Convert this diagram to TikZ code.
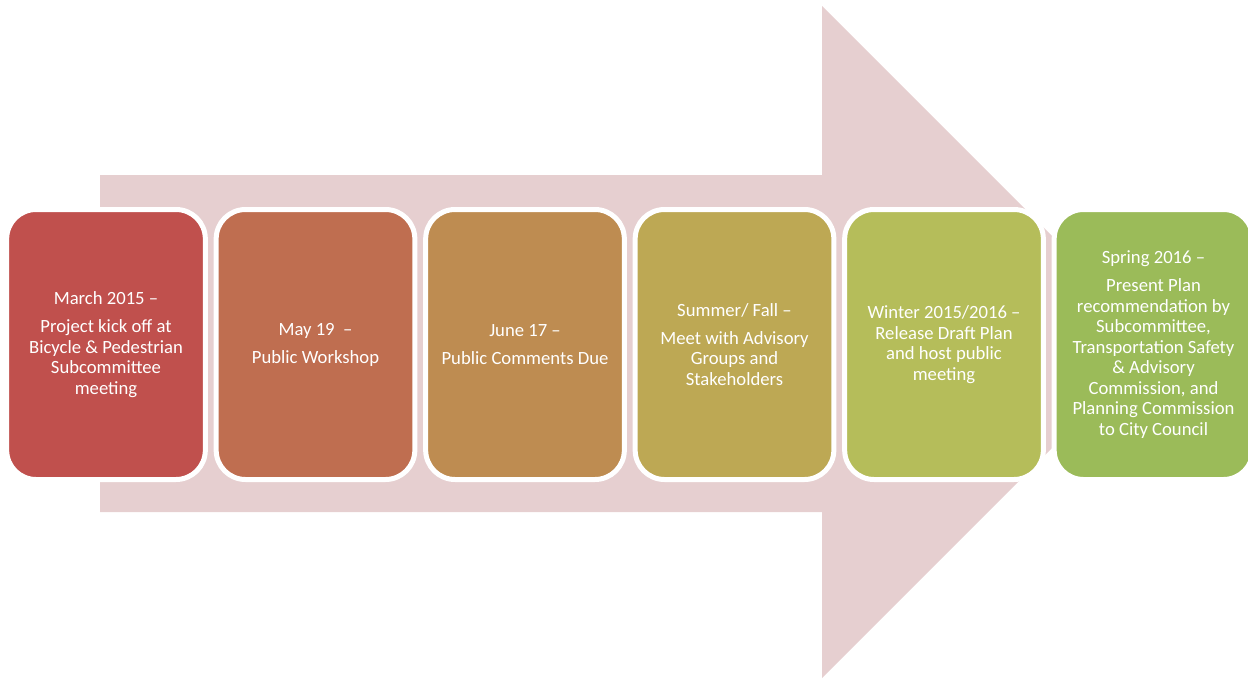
\documentclass[tikz,border=0pt]{standalone}
\usepackage{fontspec}
\setmainfont{Carlito}
\definecolor{arrowpink}{RGB}{230,207,208}
\definecolor{cA}{RGB}{192,80,77}
\definecolor{cB}{RGB}{191,110,80}
\definecolor{cC}{RGB}{190,140,81}
\definecolor{cD}{RGB}{189,168,84}
\definecolor{cE}{RGB}{181,189,90}
\definecolor{cF}{RGB}{155,187,89}
\begin{document}
\begin{tikzpicture}[x=0.75pt,y=-0.75pt,
  stagebox/.style={draw=white, line width=3.75pt, rounded corners=22pt,
    minimum width=149pt, minimum height=202.5pt, inner sep=0pt,
    text=white, align=center, font=\fontsize{14pt}{15.4pt}\selectfont}]
\useasboundingbox (0,0) rectangle (1248,678);
% big background arrow
\fill[arrowpink] (100,175) -- (822,175) -- (822,6) -- (1158,342) -- (822,678) -- (822,512) -- (100,512) -- cycle;
% stages
\node[stagebox, fill=cA] (s1) at (106,344.5) {March 2015 --\\[5.6pt]Project kick off at\\Bicycle \& Pedestrian\\Subcommittee\\meeting};
\node[stagebox, fill=cB] (s2) at (315.5,344.5) {May 19\ \ --\\[5.6pt]Public Workshop};
\node[stagebox, fill=cC] (s3) at (525,344.5) {June 17 --\\[5.6pt]Public Comments Due};
\node[stagebox, fill=cD] (s4) at (734.5,344.5) {Summer/ Fall --\\[5.6pt]Meet with Advisory\\Groups and\\Stakeholders};
\node[stagebox, fill=cE] (s5) at (944,344.5) {Winter 2015/2016 --\\Release Draft Plan\\and host public\\meeting};
\node[stagebox, fill=cF] (s6) at (1153.5,344.5) {Spring 2016 --\\[5.6pt]Present Plan\\recommendation by\\Subcommittee,\\Transportation Safety\\\& Advisory\\Commission, and\\Planning Commission\\to City Council};
\end{tikzpicture}
\end{document}
